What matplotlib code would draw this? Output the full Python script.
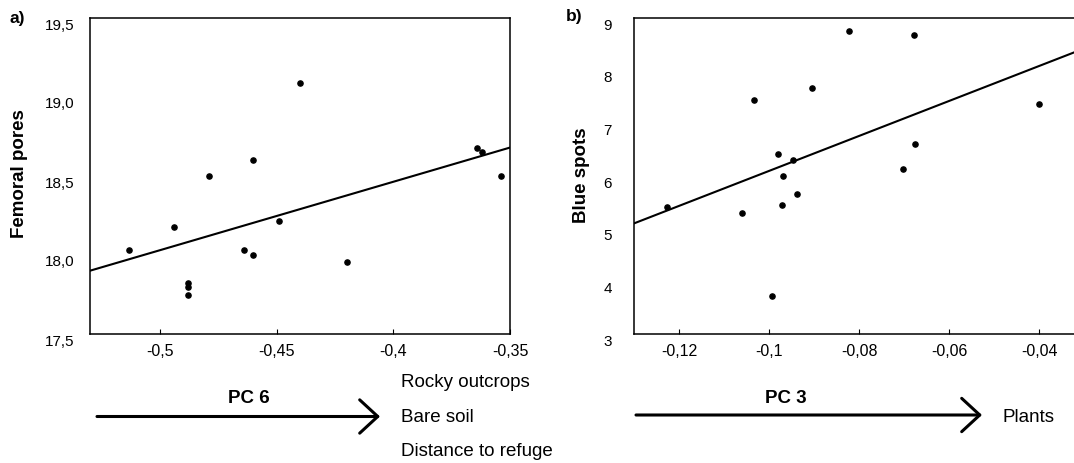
import matplotlib
matplotlib.use("Agg")
import matplotlib.pyplot as plt
from matplotlib.patches import FancyArrowPatch
from matplotlib.transforms import ScaledTranslation

plt.rcParams['font.family'] = ['Liberation Sans', 'DejaVu Sans']

# === Panel a: femoral pores vs PC 6 ===
pc6 = [-0.513, -0.494, -0.488, -0.488, -0.488, -0.479, -0.464, -0.460,
       -0.460, -0.449, -0.440, -0.420, -0.364, -0.362, -0.354]
femoral_pores = [18.03, 18.18, 17.82, 17.80, 17.75, 18.50, 18.03, 18.60,
                 18.00, 18.215, 19.09, 17.955, 18.68, 18.65, 18.50]
fit_a_x = [-0.53, -0.35]
fit_a_y = [17.90, 18.68]
xticks_a = [-0.5, -0.45, -0.4, -0.35]
xticklabels_a = ["-0,5", "-0,45", "-0,4", "-0,35"]
yticks_a = [17.5, 18.0, 18.5, 19.0, 19.5]
yticklabels_a = ["17,5", "18,0", "18,5", "19,0", "19,5"]

# === Panel b: blue spots vs PC 3 ===
pc3 = [-0.1226, -0.1059, -0.1034, -0.0993, -0.0979, -0.0972, -0.0968, -0.0947,
       -0.0938, -0.0905, -0.0823, -0.0703, -0.0677, -0.0675, -0.0399]
blue_spots = [5.41, 5.30, 7.44, 3.73, 6.41, 5.44, 6.00, 6.30,
              5.65, 7.68, 8.75, 6.13, 8.67, 6.60, 7.36]
fit_b_x = [-0.13, -0.03]
fit_b_y = [5.10, 8.42]
xticks_b = [-0.12, -0.1, -0.08, -0.06, -0.04]
xticklabels_b = ["-0,12", "-0,1", "-0,08", "-0,06", "-0,04"]
yticks_b = [3, 4, 5, 6, 7, 8, 9]
yticklabels_b = ["3", "4", "5", "6", "7", "8", "9"]

W, H = 1074, 463
fig = plt.figure(figsize=(W / 100, H / 100), dpi=100)


def px(x, y):
    return x / W, 1 - y / H


def style_axes(ax, xticks, xlabels, yticks, ylabels, ypad):
    for sp in ax.spines.values():
        sp.set_linewidth(1.1)
    ax.set_xticks(xticks)
    ax.set_xticklabels(xlabels)
    ax.set_yticks(yticks)
    ax.set_yticklabels(ylabels)
    ax.tick_params(axis='x', direction='in', length=3.6, width=0.8,
                   pad=7.5, labelsize=11.5)
    ax.tick_params(axis='y', length=0, pad=ypad, labelsize=11)
    shift = ScaledTranslation(0, -0.06, fig.dpi_scale_trans)
    for lab in ax.get_yticklabels():
        lab.set_transform(lab.get_transform() + shift)


# left panel
ax1 = fig.add_axes([89.7 / W, 129 / H, 420.3 / W, 316 / H])
ax1.scatter(pc6, femoral_pores, s=14, color='black', zorder=3)
ax1.plot(fit_a_x, fit_a_y, color='black', lw=1.5)
ax1.set_xlim(-0.53, -0.35)
ax1.set_ylim(17.5, 19.5)
style_axes(ax1, xticks_a, xticklabels_a, yticks_a, yticklabels_a, 11)

# right panel (runs past the right edge of the figure)
ax2 = fig.add_axes([634 / W, 129 / H, 450 / W, 316 / H])
ax2.scatter(pc3, blue_spots, s=14, color='black', zorder=3)
ax2.plot(fit_b_x, fit_b_y, color='black', lw=1.5)
ax2.set_xlim(-0.13, -0.03)
ax2.set_ylim(3, 9)
style_axes(ax2, xticks_b, xticklabels_b, yticks_b, yticklabels_b, 16)

# axis titles and panel letters
fig.text(*px(20, 174), "Femoral pores", rotation=90, ha='center', va='center',
         fontsize=13.5, fontweight='bold')
fig.text(*px(582, 175), "Blue spots", rotation=90, ha='center', va='center',
         fontsize=13.5, fontweight='bold')
fig.text(*px(17, 18), "a)", ha='center', va='center', fontsize=12.5, fontweight='bold')
fig.text(*px(574, 17), "b)", ha='center', va='center', fontsize=12.5, fontweight='bold')

# PC gradient arrows underneath
fig.text(*px(249, 403), "PC 6", ha='center', va='baseline', fontsize=13.5, fontweight='bold')
fig.text(*px(786, 403), "PC 3", ha='center', va='baseline', fontsize=13.5, fontweight='bold')
for x0, x1, y in [(97, 380, 416.5), (636, 982, 415)]:
    arr = FancyArrowPatch(px(x0, y), px(x1, y), transform=fig.transFigure,
                          arrowstyle='->,head_length=1.3,head_width=1.2',
                          mutation_scale=10, lw=2.2, color='black',
                          shrinkA=0, shrinkB=0)
    fig.add_artist(arr)

fig.text(*px(401, 387), "Rocky outcrops", ha='left', va='baseline', fontsize=13.5)
fig.text(*px(401, 421.5), "Bare soil", ha='left', va='baseline', fontsize=13.5)
fig.text(*px(401, 456), "Distance to refuge", ha='left', va='baseline', fontsize=13.5)
fig.text(*px(1003, 422.5), "Plants", ha='left', va='baseline', fontsize=13.5)

fig.savefig("out.png", dpi=100)
